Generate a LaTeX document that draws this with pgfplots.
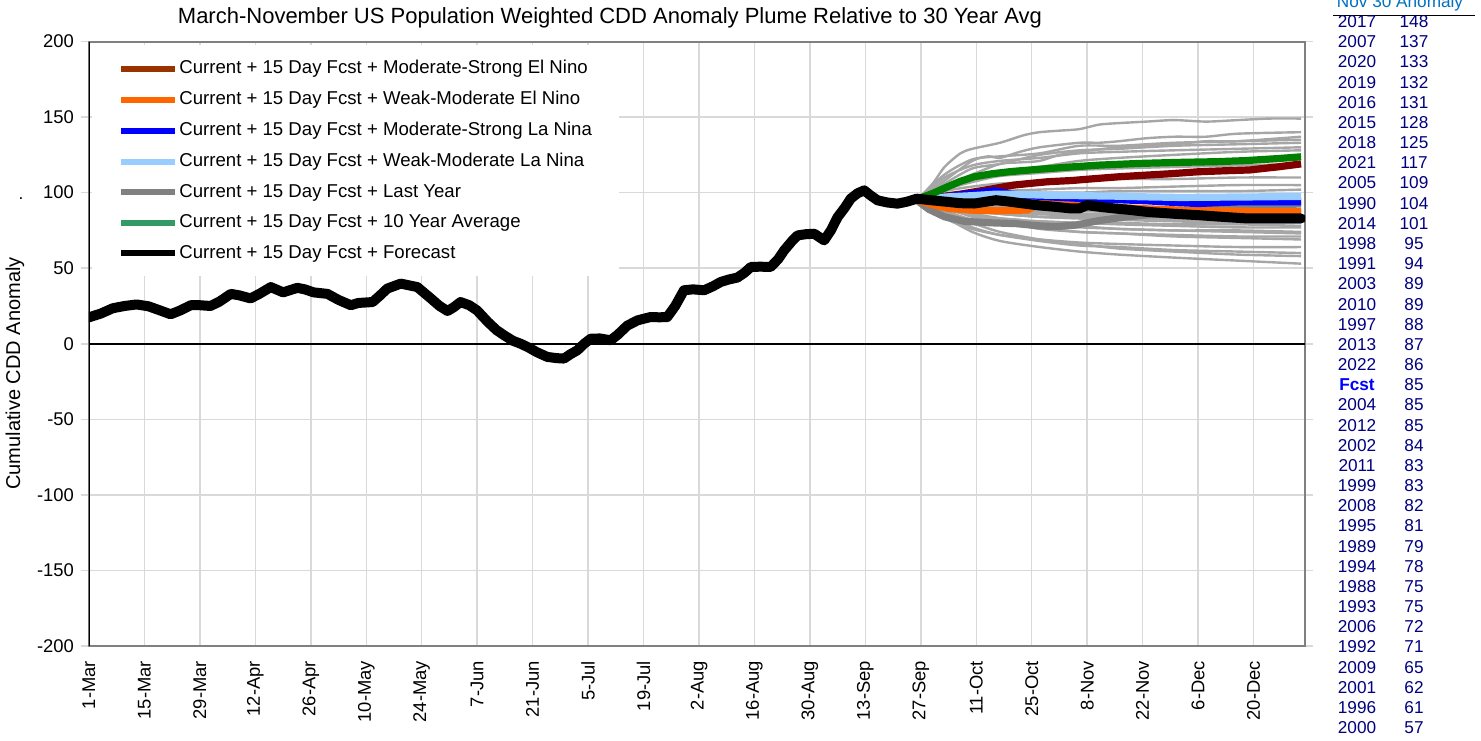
\documentclass[border=0pt]{standalone}
\usepackage{pgfplots}
\pgfplotsset{compat=1.18}
\usepackage{fontspec}
\setmainfont{Liberation Sans}
\definecolor{gy}{RGB}{166,166,166}
\definecolor{gridc}{RGB}{217,217,217}
\definecolor{dred}{RGB}{128,0,0}
\definecolor{brn}{RGB}{153,51,0}
\definecolor{org}{RGB}{255,102,0}
\definecolor{lblue}{RGB}{153,204,255}
\definecolor{lastc}{RGB}{128,128,128}
\definecolor{grn}{RGB}{0,128,0}
\definecolor{lgrn}{RGB}{51,153,102}
\definecolor{navy}{RGB}{0,0,128}
\definecolor{hdr}{RGB}{0,112,192}
\newcommand{\fs}{\fontsize{8.6}{10}\selectfont}
\newcommand{\ft}{\fontsize{9.2}{11}\selectfont}
\newcommand{\fl}{\fontsize{9.3}{11}\selectfont}
\pgfplotsset{yr/.style={gy, line width=1.2pt, smooth, tension=0.45, forget plot}}
\begin{document}
\begin{tikzpicture}
\path[use as bounding box] (-44.5pt,-47pt) rectangle (696pt,323pt);
\begin{axis}[
  at={(0pt,0pt)}, anchor=south west,
  scale only axis, width=608pt, height=302.25pt,
  xmin=0, xmax=307, ymin=-200, ymax=200,
  xtick={0,14,...,294},
  xticklabels={1-Mar,15-Mar,29-Mar,12-Apr,26-Apr,10-May,24-May,7-Jun,21-Jun,5-Jul,19-Jul,2-Aug,16-Aug,30-Aug,13-Sep,27-Sep,11-Oct,25-Oct,8-Nov,22-Nov,6-Dec,20-Dec},
  ytick={-200,-150,...,200},
  xmajorgrids, ymajorgrids,
  grid style={gridc, line width=0.75pt},
  axis line style={lastc, line width=1pt},
  x tick style={draw=none},
  y tick style={gridc, line width=0.75pt},
  tick align=outside, major tick length=4pt,
  tick label style={font=\ft},
  /pgf/number format/assume math mode=true,
  x tick label style={rotate=90, anchor=east},
  no markers,
  legend style={at={(0.0025,0.9942)}, anchor=north west, draw=none, fill=white,
    font=\fl, inner xsep=13pt, inner ysep=6pt, row sep=4.25pt, nodes={inner xsep=0.5pt, inner ysep=1.5pt}},
  legend cell align=left,
  legend image code/.code={\draw[mark repeat=2,mark phase=2,#1] plot coordinates {(0pt,0pt) (13.5pt,0pt) (27pt,0pt)};},
]
\draw[black, line width=1pt] (axis cs:0,0) -- (axis cs:307,0);

% historical years (gray plume)
\addplot[yr] coordinates {(209,95)(213,106)(216,117)(220,126)(223,129)(230,133)(236,138)(240,140)(245,141)(250,142)(255,145)(260,146)(267,147)(274,148)(282,147)(290,148)(298,149)(306,149)};
\addplot[yr] coordinates {(209,95)(216,108)(223,121)(227,124)(230,123)(235,127)(240,130)(250,133)(255,133)(260,134)(267,136)(274,137)(282,137)(290,139)(306,140)};
\addplot[yr] coordinates {(209,95)(216,112)(223,122)(230,124)(240,126)(250,131)(260,131)(274,133)(290,134)(306,135)};
\addplot[yr] coordinates {(209,95)(216,104)(223,112)(230,119)(235,120)(240,121)(245,125)(250,127)(260,130)(274,132)(282,134)(290,134)(306,137)};
\addplot[yr] coordinates {(209,95)(216,106)(223,116)(230,119)(240,125)(250,128)(260,129)(274,131)(290,132)(306,133)};
\addplot[yr] coordinates {(209,95)(216,110)(223,118)(230,121)(240,123)(250,126)(260,127)(274,128)(290,129)(306,130)};
\addplot[yr] coordinates {(209,95)(216,102)(223,109)(230,114)(240,117)(250,121)(260,123)(274,125)(290,127)(306,128)};
\addplot[yr] coordinates {(209,95)(216,102)(223,107)(230,111)(240,113)(250,115)(260,116)(274,117)(290,118)(306,119)};
\addplot[yr] coordinates {(209,95)(216,101)(223,104)(230,106)(240,107)(250,108)(260,109)(274,109)(290,110)(306,110)};
\addplot[yr] coordinates {(209,95)(216,98)(223,99)(230,101)(240,102)(250,103)(260,103)(274,104)(290,105)(306,105)};
\addplot[yr] coordinates {(209,95)(216,97)(223,98)(230,99)(240,100)(250,100)(260,101)(274,101)(290,101)(306,102)};
\addplot[yr] coordinates {(209,95)(216,97)(223,96)(230,95)(240,97)(250,96)(260,95)(274,95)(290,96)(306,95)};
\addplot[yr] coordinates {(209,95)(216,94)(223,96)(230,94)(240,95)(250,94)(260,94)(274,94)(290,93)(306,93)};
\addplot[yr] coordinates {(209,95)(216,93)(223,92)(230,91)(240,90)(250,90)(260,89)(274,89)(290,89)(306,88)};
\addplot[yr] coordinates {(209,95)(216,94)(223,93)(230,91)(240,91)(250,90)(260,89)(274,89)(290,88)(306,88)};
\addplot[yr] coordinates {(209,95)(216,92)(223,91)(230,89)(240,89)(250,88)(260,88)(274,88)(290,88)(306,87)};
\addplot[yr] coordinates {(209,95)(216,92)(223,90)(230,90)(240,88)(250,88)(260,87)(274,87)(290,87)(306,86)};
\addplot[yr] coordinates {(209,95)(216,93)(223,90)(230,89)(240,87)(250,86)(260,86)(274,85)(290,84)(306,84)};
\addplot[yr] coordinates {(209,95)(216,91)(223,88)(230,87)(240,86)(250,86)(260,85)(274,85)(290,85)(306,84)};
\addplot[yr] coordinates {(209,95)(216,92)(223,89)(230,87)(240,86)(250,85)(260,85)(274,84)(290,83)(306,83)};
\addplot[yr] coordinates {(209,95)(216,92)(223,90)(230,88)(240,86)(250,84)(260,84)(274,83)(290,82)(306,82)};
\addplot[yr] coordinates {(209,95)(216,90)(223,87)(230,86)(240,84)(250,84)(260,83)(274,83)(290,83)(306,82)};
\addplot[yr] coordinates {(209,95)(216,91)(223,88)(230,86)(240,84)(250,83)(260,83)(274,82)(290,81)(306,81)};
\addplot[yr] coordinates {(209,95)(216,92)(223,89)(230,86)(240,84)(250,83)(260,82)(274,81)(290,80)(306,80)};
\addplot[yr] coordinates {(209,95)(216,89)(223,85)(230,82)(240,81)(250,80)(260,80)(274,79)(290,79)(306,78)};
\addplot[yr] coordinates {(209,95)(216,90)(223,86)(230,83)(240,81)(250,80)(260,79)(274,78)(290,77)(306,77)};
\addplot[yr] coordinates {(209,95)(216,91)(220,87)(223,86)(230,83)(235,82)(240,80)(245,80)(250,78)(260,76)(274,75)(290,74)(306,73)};
\addplot[yr] coordinates {(209,95)(213,92)(216,87)(223,82)(230,79)(236,79)(240,78)(250,77)(260,76)(274,75)(290,75)(306,74)};
\addplot[yr] coordinates {(209,95)(216,88)(223,82)(228,80)(232,80)(240,76)(250,74)(260,73)(274,72)(290,71)(306,71)};
\addplot[yr] coordinates {(209,95)(216,90)(223,84)(230,80)(240,77)(250,74)(260,73)(274,71)(290,70)(306,69)};
\addplot[yr] coordinates {(209,95)(216,83)(223,76)(230,72)(240,69)(250,67)(260,66)(274,65)(290,64)(306,64)};
\addplot[yr] coordinates {(209,95)(216,85)(223,77)(230,72)(240,68)(250,65)(260,64)(274,62)(290,61)(306,60)};
\addplot[yr] coordinates {(209,95)(216,88)(223,80)(230,74)(240,69)(250,66)(260,63)(274,61)(290,59)(306,58)};
\addplot[yr] coordinates {(209,95)(216,84)(223,74)(230,68)(240,64)(250,61)(260,59)(274,57)(290,55)(306,53)};

% last year
\addplot[lastc, line width=3.6pt, forget plot] coordinates {(209,95)(212,89)(216,84)(221,81)(228,80)(234,79.5)(240,78)(244,77.5)(249,78.5)(255,81.5)(262,84)(268,85.5)(274,86)(280,88.5)(286,90.5)(296,91.5)(306,92.5)};
% moderate-strong el nino
\addplot[dred, line width=3.6pt, forget plot] coordinates {(209,95)(213,96.5)(217,98)(220,99)(223.5,100.5)(228,102.5)(233.5,105)(238,106.2)(242,107.2)(248,108)(254.6,109.4)(260,110.5)(267,111.6)(273,112.5)(280,113.8)(287,114.5)(293,115)(300,117)(306,119)};
% weak-moderate el nino
\addplot[org, line width=3.6pt, forget plot] coordinates {(209,95)(213,92)(217,89.5)(223,88.4)(230,88)(237,88.5)(240,93)(244,94)(248,94)(252,91.5)(258,90.5)(265,89.5)(275,88.5)(285,88)(295,87.5)(306,87.3)};
% moderate-strong la nina
\addplot[blue, line width=3.6pt, forget plot] coordinates {(209,95.5)(213,96.5)(216.7,97.2)(220,98.5)(223.5,99.5)(228.5,101.2)(233,99)(240,97.5)(250,96.2)(258,95.5)(267,94.6)(274,93.5)(280,92.8)(290,93.9)(300,94)(306,94)};
% weak-moderate la nina
\addplot[lblue, line width=3.6pt, forget plot] coordinates {(209,95.5)(216.7,97.2)(223,98)(229,99)(235,98.8)(241.5,98.3)(250,98)(258.5,97.7)(267,97.2)(275.6,96.8)(285,97)(295,97.2)(306,97.5)};
% 10 year average
\addplot[grn, line width=3.6pt, forget plot] coordinates {(209,95.5)(213,99.5)(216.7,103.8)(220,107.5)(223.5,110.5)(228,112.5)(233,114)(240,115.5)(248,117)(255,118.2)(265,119.3)(275,120)(285,120.5)(292,121.2)(300,122.5)(306,123.7)};
% forecast (observed + forecast)
\addplot[black, line width=5pt, line join=round, line cap=round, forget plot] coordinates {
(0,17.5)(3,20)(6,23.5)(9,25)(12,26)(15,24.8)(18,22)(20.6,19.5)(23,22)(25.7,25.5)(28,25.5)(30.7,25)(33,28)(35.8,33)(38,32)(40.8,30)(43,33)(45.9,37.5)(49,34)(52.6,37)(54.5,36)(56.7,34)(60.2,33)(63,29)(66.1,25.5)(68,27)(71.6,27.6)(73.5,32)(75.3,36.5)(78.7,39.8)(82.9,37.5)(86.3,30)(88.5,25)(90.5,21.7)(92,24)(93.8,27.6)(96,25.5)(98,22)(100.7,14.4)(102.9,9)(104.8,5.6)(107,2)(109,0)(111,-2.5)(113,-5.5)(115.7,-8.7)(118,-9.5)(119.9,-9.8)(121.5,-7)(123.3,-4.3)(125,0)(126.7,3.4)(129,3.5)(131.7,2.3)(133.5,6)(135.9,12)(138.5,15.5)(141.8,17.7)(144,17.5)(146,17.7)(148,25)(150.2,35.4)(152.5,36)(155.3,35.4)(157.5,38)(159.5,40.9)(161.5,42.5)(163.7,43.8)(165.5,47)(167.1,50.8)(169.5,51)(172.1,50.8)(174,56)(175.5,61.8)(177.5,68)(178.9,71.7)(181,72.5)(183.1,72.8)(185.6,68.4)(187.3,75)(189,83.8)(190.8,90)(192.3,96)(194,99.5)(195.7,101.5)(197.4,98)(199.1,94.9)(201.5,93.5)(204.1,92.7)(206.5,94)(209,96)
(212.5,95)(216.7,93.9)(220,93)(223.5,92.8)(226.5,94)(229,95)(232.5,94)(236,92.8)(240,91.5)(244,90.6)(248,89.5)(250,89.5)(252,91.7)(255.5,90.5)(259,89.5)(263,88.5)(267,87.3)(274,86)(280,85.1)(286,84)(292.5,82.9)(299,82.9)(306,82.9)};

\draw[black, line width=0.8pt] (rel axis cs:0,0) -- (rel axis cs:0,1);

% legend
\addlegendimage{brn, line width=3pt, mark=square*, mark size=2.6pt, mark options={dred, fill=dred, line width=0pt}}
\addlegendentry{Current + 15 Day Fcst + Moderate-Strong El Nino}
\addlegendimage{org, line width=3pt, mark=square*, mark size=2.6pt, mark options={org, fill=org, line width=0pt}}
\addlegendentry{Current + 15 Day Fcst + Weak-Moderate El Nino}
\addlegendimage{blue, line width=3pt, mark=square*, mark size=2.6pt, mark options={blue, fill=blue, line width=0pt}}
\addlegendentry{Current + 15 Day Fcst + Moderate-Strong La Nina}
\addlegendimage{lblue, line width=3pt, mark=square*, mark size=2.6pt, mark options={lblue, fill=lblue, line width=0pt}}
\addlegendentry{Current + 15 Day Fcst + Weak-Moderate La Nina}
\addlegendimage{lastc, line width=3pt, mark=square*, mark size=2.6pt, mark options={lastc, fill=lastc, line width=0pt}}
\addlegendentry{Current + 15 Day Fcst + Last Year}
\addlegendimage{lgrn, line width=3pt, mark=square*, mark size=2.6pt, mark options={grn, fill=grn, line width=0pt}}
\addlegendentry{Current + 15 Day Fcst + 10 Year Average}
\addlegendimage{black, line width=3pt, mark=square*, mark size=2.6pt, mark options={black, fill=black, line width=0pt}}
\addlegendentry{Current + 15 Day Fcst + Forecast}
\end{axis}

\begin{scope}[x=0.5pt,y=-0.5pt,shift={(-89,-646)}]
\node[font=\fontsize{11}{13}\selectfont] at (610,18) {March-November US Population Weighted CDD Anomaly Plume Relative to 30 Year Avg};
\node[rotate=90, font=\fontsize{10}{12}\selectfont] at (15,373.5) {Cumulative CDD Anomaly};
\node[font=\fs] at (21,199) {.};
\node[text=hdr, font=\fs] at (1400,3) {Nov 30 Anomaly};
\draw[black, line width=0.6pt] (1333,15.5) -- (1475,15.5);
\foreach \i/\yr/\v in {0/2017/148,1/2007/137,2/2020/133,3/2019/132,4/2016/131,5/2015/128,6/2018/125,7/2021/117,8/2005/109,9/1990/104,10/2014/101,11/1998/95,12/1991/94,13/2003/89,14/2010/89,15/1997/88,16/2013/87,17/2022/86,19/2004/85,20/2012/85,21/2002/84,22/2011/83,23/1999/83,24/2008/82,25/1995/81,26/1989/79,27/1994/78,28/1988/75,29/1993/75,30/2006/72,31/1992/71,32/2009/65,33/2001/62,34/1996/61,35/2000/57}{
  \node[text=navy, font=\fs] at (1357,{21.7+20.17*\i}) {\yr};
  \node[text=navy, font=\fs] at (1414,{21.7+20.17*\i}) {\v};
}
\node[text=blue, font=\fs\bfseries] at (1357,{21.7+20.17*18}) {Fcst};
\node[text=navy, font=\fs] at (1414,{21.7+20.17*18}) {85};
\end{scope}
\end{tikzpicture}
\end{document}
